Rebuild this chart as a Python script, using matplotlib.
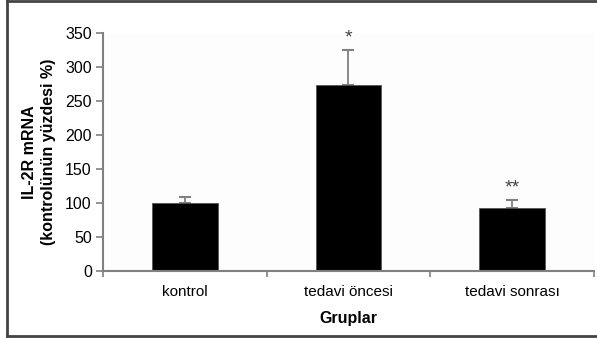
import matplotlib
matplotlib.use("Agg")
import matplotlib.pyplot as plt
from matplotlib.lines import Line2D
import numpy as np

categories = ["kontrol", "tedavi öncesi", "tedavi sonrası"]
values = [100, 273, 93]
errors = [9, 52, 12]
marks = ["", "*", "**"]
yticks = [0, 50, 100, 150, 200, 250, 300, 350]

plt.rcParams['font.family'] = ['Liberation Sans', 'DejaVu Sans']

fig = plt.figure(figsize=(5.97, 3.38), dpi=100)
ax = fig.add_axes([0.1725, 0.198, 0.8225, 0.704])
ax.set_facecolor('#fdfdfd')

x = np.arange(len(categories)) + 0.5
ax.bar(x, values, width=0.4, color='black', edgecolor='#555555', linewidth=0.6, zorder=2)
ax.errorbar(x, values, yerr=[np.zeros(len(errors)), errors], fmt='none',
            ecolor='#808080', elinewidth=1.3, capsize=4, capthick=1.5, zorder=1)
for xi, v, e, m in zip(x, values, errors, marks):
    if m:
        ax.text(xi, v + e + 5, m, ha='center', va='bottom', fontsize=14, color='#444444')

ax.set_xlim(0, 3)
ax.set_ylim(0, 350)
ax.set_yticks(yticks)
ax.set_xticks([0, 1, 2, 3])
ax.set_xticklabels([])
ax.set_xticks(x, minor=True)
ax.set_xticklabels(categories, minor=True, fontsize=11)
ax.tick_params(axis='x', which='minor', length=0, pad=10)
ax.tick_params(axis='x', which='major', length=4, color='#808080', width=1.2)
ax.tick_params(axis='y', length=5, color='#808080', width=1.2, labelsize=11.5, pad=3)

for s in ['top', 'right']:
    ax.spines[s].set_visible(False)
for s in ['left', 'bottom']:
    ax.spines[s].set_color('#808080')
    ax.spines[s].set_linewidth(1.5)

ax.set_ylabel("IL-2R mRNA\n(kontrolünün yüzdesi %)", fontsize=11.5, fontweight='bold',
              labelpad=7, linespacing=1.3)
ax.set_xlabel("Gruplar", fontsize=11.5, fontweight='bold', labelpad=9)

# figure frame
fig.add_artist(Line2D([0.011, 1.0], [0.997, 0.997], transform=fig.transFigure, color='#444444', lw=2))
fig.add_artist(Line2D([0.011, 0.011], [0.006, 0.997], transform=fig.transFigure, color='#444444', lw=2))
fig.add_artist(Line2D([0.011, 1.0], [0.006, 0.006], transform=fig.transFigure, color='#444444', lw=2))

fig.savefig("out.png", dpi=100)
